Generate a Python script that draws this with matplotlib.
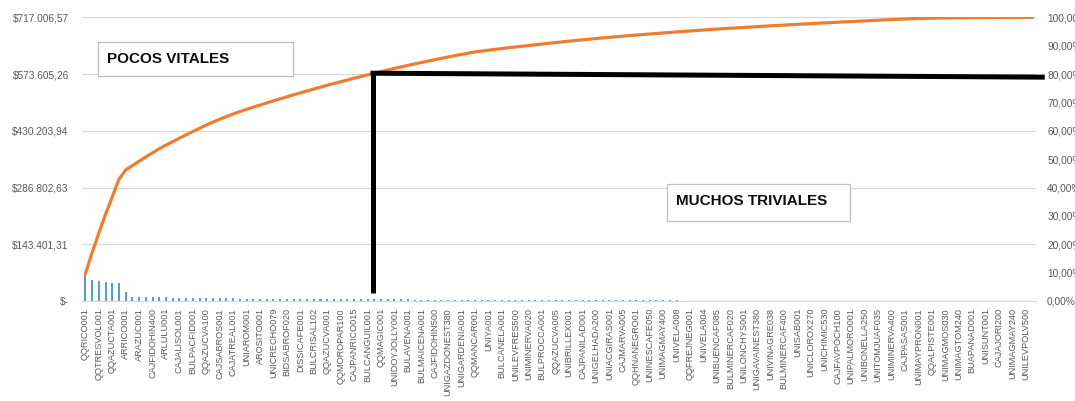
import numpy as np
import matplotlib
matplotlib.use("Agg")
import matplotlib.pyplot as plt
from matplotlib.patches import Rectangle

plt.rcParams['font.family'] = ['Liberation Sans', 'DejaVu Sans']

# ---- data ----
labels = [
    "QQRICO001", "QQTRESVOL001", "QQAZUCTA001", "ARRICO001", "ARAZUC001",
    "CAJFIDOHIN400", "ARLULU001", "CAJALISOL001", "BULPACFID001", "QQAZUCVA100",
    "CAJSABROS001", "CAJATREAL001", "UNIAROM001", "AROSITO001", "UNICRECHO079",
    "BIDSABROF020", "DISSICAFE001", "BULCRISAL102", "QQAZUCVA001", "QQMOROPAR100",
    "CAJPANRICO015", "BULCANGUIL001", "QQMAGIC001", "UNIDOYJOLLY001", "BULAVENA001",
    "BULMAICENA001", "CAJFIDOHIN500", "UNIGAZDONEST380", "UNIGARDENIA001", "QQMANCAR001",
    "UNIYA001", "BULCANELA001", "UNILEVFRES500", "UNIMINERVA020", "BULPROCCA001",
    "QQAZUCVA005", "UNIBRILLEX001", "CAJPANILAD001", "UNIGELHADA200", "UNIACGIRAS001",
    "CAJMARVA005", "QQHNANEGRO01", "UNINESCAFE050", "UNIMAGMAY400", "UNIVELA008",
    "QQFREJNEG001", "UNIVELA004", "UNIBUENCAF085", "BULMINERCAF020", "UNILONCHYS001",
    "UNIGAVAINEST380", "UNIVINAGRE038", "BULMINERCAF400", "UNISAB001", "UNICLOROX270",
    "UNICHIMIC530", "CAJFAVPOCH100", "UNIPALMORO001", "UNIBONELLA250", "UNITOMJUAF035",
    "UNIMINERVA400", "CAJPASAS001", "UNIMAYPRON001", "QQALPISTE001", "UNIMAGMOS030",
    "UNIMAGTOM240", "BUAPANAD001", "UNISUNT001", "CAJAJORI200", "UNIMAGMAY240",
    "UNILEVPOLV500",
]

values = [
    68833, 53058, 49473, 47322, 44454, 44454, 23661,
    11114, 10899, 10755, 10612, 10397,
    8963, 8819, 8676, 8533, 8389, 8246, 8102,
    7529, 7170, 6812, 6453,
    6095, 5736, 5449,
    5378, 5306, 5234, 5162, 5091, 5019, 4947, 4876, 4804, 4732, 4661, 4589,
    4517, 4445, 4374, 4302, 4230, 4159, 4087, 4015, 3944, 3872, 3800, 3728,
    3657, 3585, 3513, 3442, 3370, 3298, 3227, 3155, 3083,
    2294, 2151, 2079, 2008, 2008, 1936,
    1936, 1936, 1864, 1864, 1864, 1793,
    1793, 1721, 1721, 1649, 1649, 1577,
    1577, 1506, 1506, 1434, 1434, 1362,
    1362, 1362, 1362, 1291, 1291, 1291, 1219, 1219, 1219, 1147, 1147, 1147,
    1076, 1076, 1076, 1076, 1004, 1004, 1004, 1004, 932, 932, 932, 932,
    932, 932, 932, 860, 860, 860, 860, 860, 860, 860, 860, 789, 789, 789, 789,
    717, 645, 574, 502, 430, 359, 287, 215, 215, 143, 143, 143,
    72, 72, 72, 72, 72, 72, 72, 72,
]

left_tick_labels = ["$-", "$143.401,31", "$286.802,63", "$430.203,94",
                    "$573.605,26", "$717.006,57"]
right_tick_labels = ["0,00%", "10,00%", "20,00%", "30,00%", "40,00%", "50,00%",
                     "60,00%", "70,00%", "80,00%", "90,00%", "100,00%"]
cutoff_pct = 80
box_texts = ["POCOS VITALES", "MUCHOS TRIVIALES"]

# ---- figure ----
W, H = 1075, 401
fig = plt.figure(figsize=(W / 100, H / 100), dpi=100)
L, R, T, B = 82, 1036, 17.3, 301
ax = fig.add_axes([L / W, 1 - B / H, (R - L) / W, (B - T) / H])

x = np.arange(len(values))
total = float(sum(values))
cum_pct = np.cumsum(values) / total * 100

ax.bar(x, values, width=0.3, color='#5B9BD5', zorder=2)
ax.set_xlim(-0.5, len(values) - 0.5)
ax.set_ylim(0, total)
ax.set_yticks(np.linspace(0, total, len(left_tick_labels)))
ax.set_yticklabels(left_tick_labels)
ax.set_xticks(x[::2][:len(labels)])
ax.set_xticklabels(labels, rotation=90)
ax.grid(axis='y', color='#d9d9d9', lw=0.8)
ax.set_axisbelow(True)
for s in ['top', 'right', 'left']:
    ax.spines[s].set_visible(False)
ax.spines['bottom'].set_color('#d9d9d9')
ax.tick_params(axis='x', length=0, pad=5, labelsize=6.6, labelcolor='#595959')
ax.tick_params(axis='y', length=0, pad=9.5, labelsize=7.3, labelcolor='#595959')

ax2 = ax.twinx()
ax2.plot(x, cum_pct, color='#ED7D31', lw=2.3, solid_capstyle='round', zorder=3)
ax2.set_ylim(0, 100)
ax2.set_yticks(np.arange(0, 101, 10))
ax2.set_yticklabels(right_tick_labels)
for s in ax2.spines.values():
    s.set_visible(False)
ax2.tick_params(axis='y', length=0, pad=8, labelsize=7.3, labelcolor='#595959')

# cut-off marker (black lines)
xc = np.interp(cutoff_pct, cum_pct, x) + 0.3
ax2.plot([xc, xc], [2.7, 80.3], color='black', lw=3.6, solid_capstyle='butt',
         clip_on=False, zorder=5)
ax2.plot([xc - 0.35, len(values) + 0.8], [80.3, 78.9], color='black', lw=3.6,
         solid_capstyle='butt', clip_on=False, zorder=5)

# text boxes
def fx(px):
    return px / W

def fy(py):
    return 1 - py / H

for (x0, y0, x1, y1, tx, ty), txt in zip(
        [(97.7, 42.3, 292.7, 76, 107, 59), (666.7, 184.3, 850, 220.7, 676, 201.5)],
        box_texts):
    fig.add_artist(Rectangle((fx(x0), fy(y1)), fx(x1) - fx(x0), fy(y0) - fy(y1),
                             transform=fig.transFigure, facecolor='white',
                             edgecolor='#bfbfbf', lw=0.9, zorder=6))
    fig.text(fx(tx), fy(ty), txt, fontsize=11, fontweight='bold', color='#0d0d0d',
             ha='left', va='center', zorder=7)

fig.savefig('out.png', dpi=100)
